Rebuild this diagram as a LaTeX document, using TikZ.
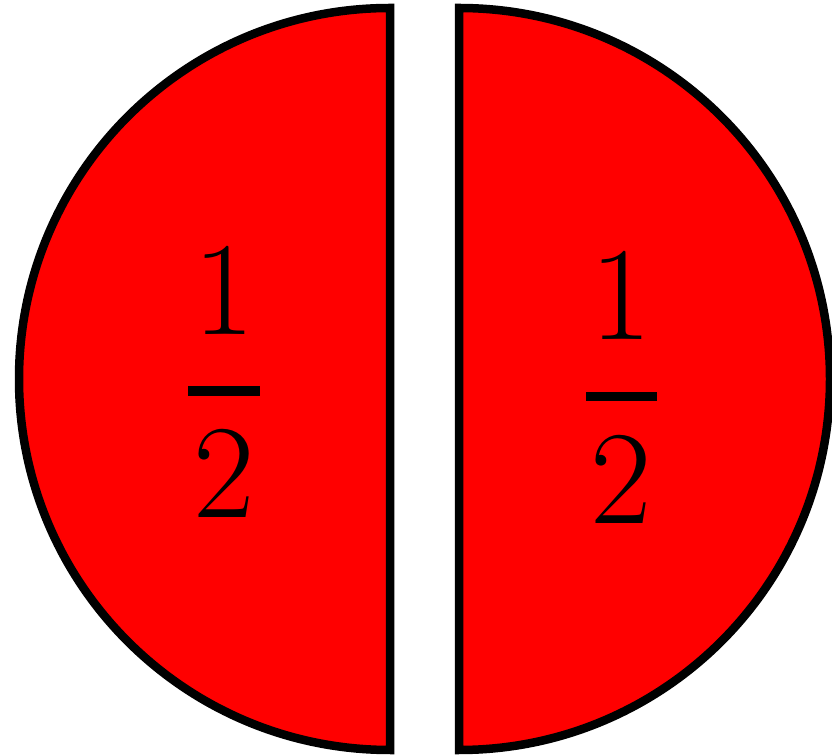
\documentclass[tikz,border=0pt]{standalone}
\begin{document}
\begin{tikzpicture}[x=1bp,y=1bp,
  half/.style={draw=black,fill=red,line width=8.5bp,line join=miter},
  digit/.style={inner sep=0pt,font=\fontsize{134}{134}\selectfont},
  fracbar/.style={line width=9.5bp}]
\useasboundingbox (0,0) rectangle (832,756);
% left half
\draw[half] (390,748) arc[start angle=90,end angle=270,radius=371] -- cycle;
% right half
\draw[half] (459,748) arc[start angle=90,end angle=-90,radius=371] -- cycle;
% left fraction
\node[digit] (ln) at (224,466) {1};
\node[digit] (ld) at (224,283) {2};
\coordinate (lba) at (188,365);
\coordinate (lbb) at (260,365);
\draw[fracbar] (lba) -- (lbb);
% right fraction
\node[digit] (rn) at (621,460.5) {1};
\node[digit] (rd) at (621,277) {2};
\coordinate (rba) at (586,359.5);
\coordinate (rbb) at (657,359.5);
\draw[fracbar] (rba) -- (rbb);
\end{tikzpicture}
\end{document}
